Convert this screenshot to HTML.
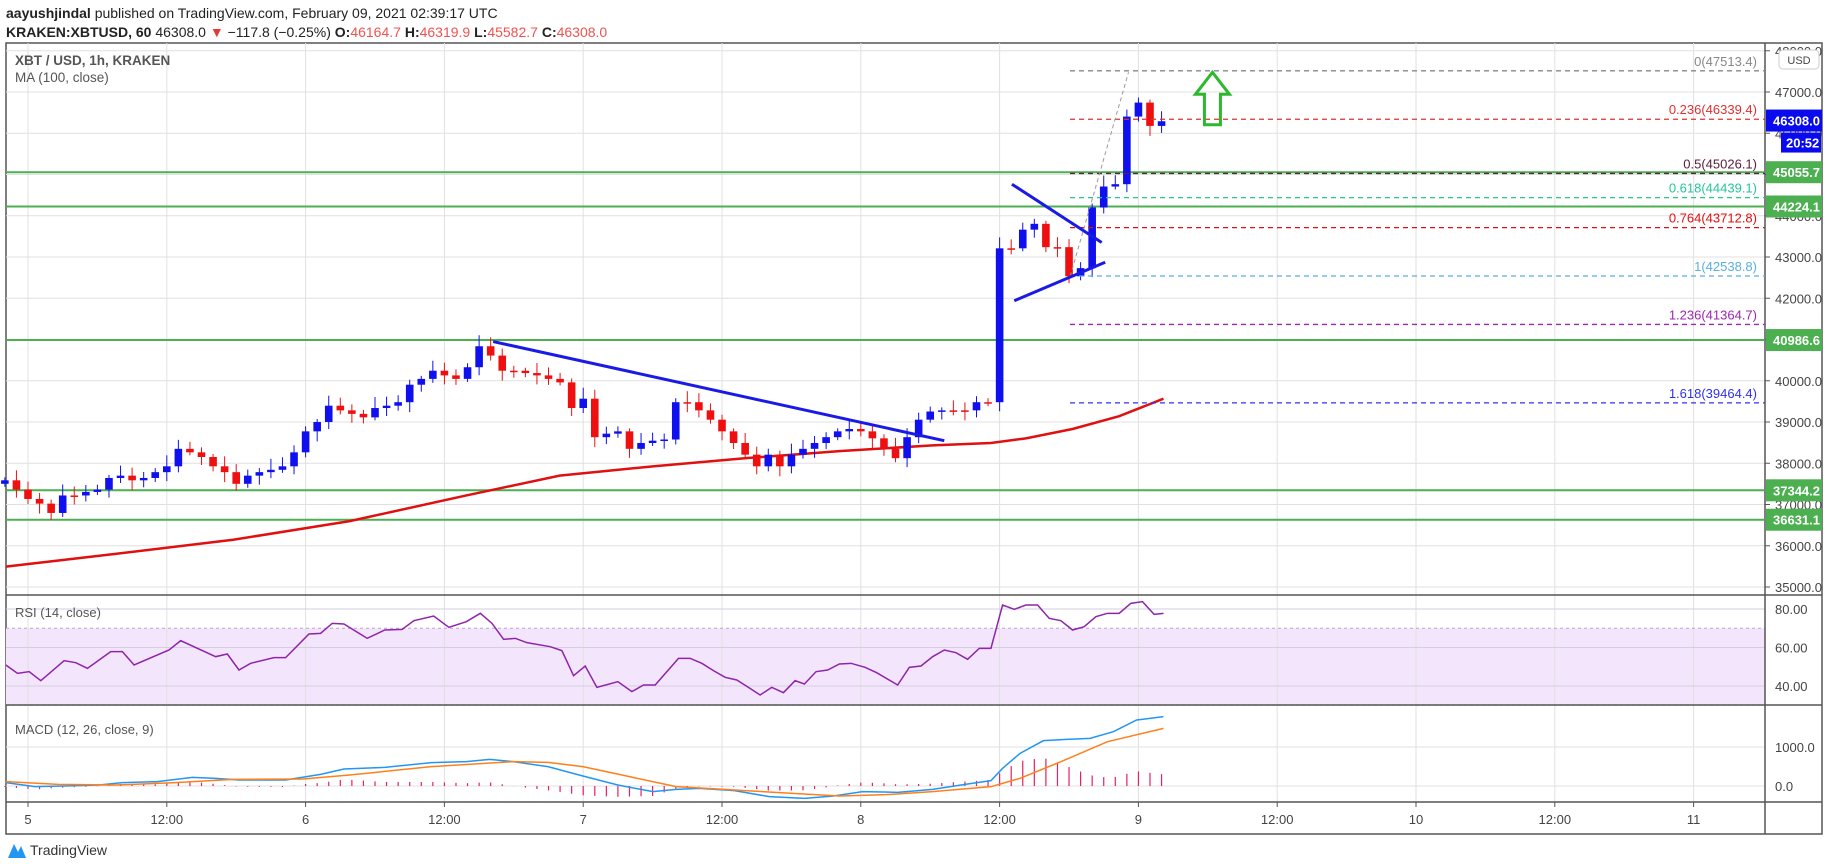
<!DOCTYPE html>
<html><head><meta charset="utf-8"><style>
body{margin:0;background:#fff;width:1828px;height:868px;overflow:hidden;font-family:"Liberation Sans",sans-serif;}
svg{position:absolute;left:0;top:0}
</style></head><body>
<svg id="s" width="1828" height="868" xmlns="http://www.w3.org/2000/svg" font-family="Liberation Sans, sans-serif"></svg>
<script>
const S=document.getElementById('s');let h='';
const K=1.1658;
const L=6,R=1765,AX=1822;
const py=p=>92+(47000-p)*0.04125;
const xo=i=>28+i*11.567;
h+=`<rect x="${L}" y="43" width="${AX-L}" height="791" fill="#fff" stroke="#555" stroke-width="1.5"/>`;
const ry=v=>609+(80-v)*1.925;
h+=`<rect x="${L}" y="${ry(70)}" width="${R-L}" height="${ry(30)-ry(70)}" fill="#f3e6fc"/>`;
for(let k=0;k<13;k++){const x=28+138.8*k;h+=`<line x1="${x}" y1="43" x2="${x}" y2="802" stroke="#e0e0e0"/>`;}
for(let p=35000;p<=48000;p+=1000){const y=py(p);h+=`<line x1="${L}" y1="${y}" x2="${R}" y2="${y}" stroke="#e0e0e0"/><line x1="${R}" y1="${y}" x2="${R+5}" y2="${y}" stroke="#555"/><text x="${R+10}" y="${y+5}" font-size="13" fill="#444">${p}.0</text>`;}
[80,60,40].forEach(v=>{const y=ry(v);h+=`<line x1="${L}" y1="${y}" x2="${R}" y2="${y}" stroke="#d6cde0"/><text x="${R+10}" y="${y+5}" font-size="13" fill="#444">${v}.00</text>`;});
[70,30].forEach(v=>{h+=`<line x1="${L}" y1="${ry(v)}" x2="${R}" y2="${ry(v)}" stroke="#b9a6c9" stroke-dasharray="3,3"/>`;});
const my=v=>786-v*0.039;
[1000,0].forEach(v=>{h+=`<line x1="${L}" y1="${my(v)}" x2="${R}" y2="${my(v)}" stroke="#e0e0e0"/><text x="${R+10}" y="${my(v)+5}" font-size="13" fill="#444">${v}.0</text>`;});
[595,705,802].forEach(y=>h+=`<line x1="${L}" y1="${y}" x2="${AX}" y2="${y}" stroke="#555" stroke-width="1.5"/>`);
h+=`<line x1="${R}" y1="43" x2="${R}" y2="834" stroke="#555" stroke-width="1.5"/>`;
const tl=['5','12:00','6','12:00','7','12:00','8','12:00','9','12:00','10','12:00','11'];
tl.forEach((t,k)=>{const x=28+138.8*k;h+=`<line x1="${x}" y1="802" x2="${x}" y2="807" stroke="#555"/><text x="${x}" y="824" font-size="13" fill="#444" text-anchor="middle">${t}</text>`;});
[45055.7,44224.1,40986.6,37344.2,36631.1].forEach(p=>h+=`<line x1="${L}" y1="${py(p)}" x2="${R}" y2="${py(p)}" stroke="#4caf50" stroke-width="2"/>`);
const ma=[[5,486],[100,475],[200,463],[300,447],[400,425],[480,408],[560,400],[640,393],[720,387],[800,382],[850,380],[880,376],[920,368],[960,357],[998,342]];
h+=`<polyline fill="none" stroke="#e01010" stroke-width="2.5" points="${ma.map(p=>p[0]*K+','+p[1]*K).join(' ')}"/>`;
const c=[412,420,428,432,440,425,425,422,420,410,408,412,410,405,400,385,388,392,400,405,415,408,405,403,400,388,370,362,348,352,355,358,350,348,345,330,325,318,322,325,315,297,305,318,318,320,322,325,328,350,342,375,372,370,385,380,378,377,345,345,352,360,370,380,390,400,390,400,390,385,380,375,370,368,370,376,385,393,375,360,353,352,352,352,345,345,213,213,197,192,212,212,237,230,178,160,158,100,88,108,104];
let prev=415;
c.forEach((d,j)=>{const i=j-2,x=xo(i);const o=prev*K,cl=d*K;const up=cl<o;const col=up?'#1010ee':'#ee1010';
 const t=Math.min(o,cl)-(3+((j*7)%9)),b=Math.max(o,cl)+(3+((j*5)%8));
 h+=`<line x1="${x}" y1="${t}" x2="${x}" y2="${b}" stroke="${col}"/><rect x="${x-3.8}" y="${Math.min(o,cl)}" width="7.6" height="${Math.max(1.5,Math.abs(o-cl))}" fill="${col}"/>`;prev=d;});
const fib=[[47513.4,'0(47513.4)','#888'],[46339.4,'0.236(46339.4)','#e03030'],[45026.1,'0.5(45026.1)','#5a2040'],[44439.1,'0.618(44439.1)','#26c69a'],[43712.8,'0.764(43712.8)','#e01010'],[42538.8,'1(42538.8)','#5aaee0'],[41364.7,'1.236(41364.7)','#9c27b0'],[39464.4,'1.618(39464.4)','#3030f0']];
fib.forEach(f=>{const y=py(f[0]);h+=`<line x1="1070" y1="${y}" x2="${R}" y2="${y}" stroke="${f[2]}" stroke-width="1.3" stroke-dasharray="5,4"/><text x="1757" y="${y-5}" font-size="13" fill="${f[2]}" text-anchor="end">${f[1]}</text>`;});
h+=`<line x1="${918*K}" y1="${237*K}" x2="${968*K}" y2="${62*K}" stroke="#999" stroke-dasharray="4,3"/>`;
[[423,293,810,378],[868,158,945,208],[870,258,948,225]].forEach(l=>h+=`<line x1="${l[0]*K}" y1="${l[1]*K}" x2="${l[2]*K}" y2="${l[3]*K}" stroke="#1a1ae6" stroke-width="3"/>`);
const ax=1040*K,at=62*K,ab=107*K;
h+=`<polygon points="${ax},${at} ${ax+17},${at+22} ${ax+8},${at+22} ${ax+8},${ab} ${ax-8},${ab} ${ax-8},${at+22} ${ax-17},${at+22}" fill="none" stroke="#2eb82e" stroke-width="3"/>`;
const rs=[[5,255],[15,280],[25,275],[35,302],[55,242],[65,248],[75,265],[95,215],[105,215],[115,255],[145,210],[155,182],[185,230],[195,222],[205,270],[215,250],[235,233],[245,233],[265,162],[275,160],[285,130],[295,132],[315,175],[330,150],[345,148],[355,122],[372,108],[385,142],[400,125],[412,100],[422,130],[432,178],[442,175],[452,188],[472,200],[482,212],[492,287],[502,258],[512,322],[530,305],[542,335],[552,315],[562,315],[582,235],[592,235],[602,250],[612,272],[622,292],[632,300],[642,322],[652,345],[662,322],[672,338],[682,302],[690,312],[700,275],[710,270],[720,252],[730,250],[742,262],[752,278],[770,315],[780,262],[790,258],[800,230],[810,210],[820,218],[830,238],[840,205],[850,205],[860,75],[870,88],[880,75],[890,75],[900,115],[910,122],[920,150],[930,140],[940,110],[950,100],[960,100],[970,70],[980,65],[990,103],[998,100]];
h+=`<polyline fill="none" stroke="#8e24aa" stroke-width="1.5" points="${rs.map(p=>p[0]*K+','+(580+p[1]/3)).join(' ')}"/>`;
const mb=[[5,608],[30,620],[55,618],[85,615],[105,608],[135,605],[165,592],[185,595],[205,600],[245,600],[275,583],[295,567],[330,562],[370,548],[400,545],[420,538],[440,545],[470,560],[500,588],[530,615],[560,635],[580,628],[600,625],[630,632],[660,650],[690,655],[715,648],[740,635],[770,637],[800,628],[830,612],[850,602],[860,565],[875,520],[895,482],[915,478],[935,475],[955,455],[975,420],[998,410]];
const ms=[[5,605],[50,613],[100,615],[150,608],[200,598],[260,597],[300,585],[370,560],[440,545],[470,547],[500,560],[540,590],[580,620],[630,630],[680,640],[720,648],[760,644],[800,635],[850,620],[875,595],[910,545],[950,485],[998,445]];
const itp=(a,x)=>{for(let k=1;k<a.length;k++)if(x<=a[k][0]){const p=a[k-1],q=a[k];return p[1]+(q[1]-p[1])*(x-p[0])/(q[0]-p[0]);}return a[a.length-1][1];};
for(let i=-2;i<=98;i++){const xd=xo(i)/K;const d=(itp(ms,xd)-itp(mb,xd))/3;const y0=786;h+=`<line x1="${xo(i)}" y1="${y0}" x2="${xo(i)}" y2="${y0-d}" stroke="#e91e63" stroke-width="1.2"/>`;}
h+=`<polyline fill="none" stroke="#2196f3" stroke-width="1.5" points="${mb.map(p=>p[0]*K+','+(580+p[1]/3)).join(' ')}"/>`;
h+=`<polyline fill="none" stroke="#ff7f1a" stroke-width="1.5" points="${ms.map(p=>p[0]*K+','+(580+p[1]/3)).join(' ')}"/>`;
const box=(p,t,bg)=>{const y=py(p);h+=`<rect x="${R+1}" y="${y-11}" width="${AX-R-1}" height="22" fill="${bg}"/><text x="${R+8}" y="${y+5}" font-size="13" font-weight="bold" fill="#fff">${t}</text>`;};
box(46308,'46308.0','#0a0aee');
h+=`<rect x="${R+16}" y="${py(46308)+12}" width="40" height="20" fill="#0a0aee"/><text x="${R+21}" y="${py(46308)+27}" font-size="13" font-weight="bold" fill="#fff">20:52</text>`;
[45055.7,44224.1,40986.6,37344.2,36631.1].forEach(p=>box(p,p.toFixed(1),'#4caf50'));
h+=`<rect x="${R+14}" y="50" width="40" height="19" rx="4" fill="#fff" stroke="#ccc"/><text x="${R+34}" y="64" font-size="11" fill="#444" text-anchor="middle">USD</text>`;
h+=`<text x="6" y="18" font-size="14" fill="#222"><tspan font-weight="bold">aayushjindal</tspan> published on TradingView.com, February 09, 2021 02:39:17 UTC</text>`;
h+=`<text x="6" y="37" font-size="14" fill="#222"><tspan font-weight="bold">KRAKEN:XBTUSD, 60</tspan> 46308.0 <tspan fill="#e53935">▼</tspan> −117.8 (−0.25%) <tspan font-weight="bold">O:</tspan><tspan fill="#ef5350">46164.7</tspan> <tspan font-weight="bold">H:</tspan><tspan fill="#ef5350">46319.9</tspan> <tspan font-weight="bold">L:</tspan><tspan fill="#ef5350">45582.7</tspan> <tspan font-weight="bold">C:</tspan><tspan fill="#ef5350">46308.0</tspan></text>`;
h+=`<text x="15" y="65" font-size="13.5" font-weight="bold" fill="#555">XBT / USD, 1h, KRAKEN</text><text x="15" y="82" font-size="13.5" fill="#555">MA (100, close)</text>`;
h+=`<text x="15" y="617" font-size="13" fill="#555">RSI (14, close)</text><text x="15" y="734" font-size="13" fill="#555">MACD (12, 26, close, 9)</text>`;
h+=`<path d="M8,858 L14,844 L18,852 L21,846 L26,858 Z" fill="#2196f3"/><text x="30" y="855" font-size="14" fill="#333">TradingView</text>`;
S.innerHTML=h;
</script>
</body></html>
